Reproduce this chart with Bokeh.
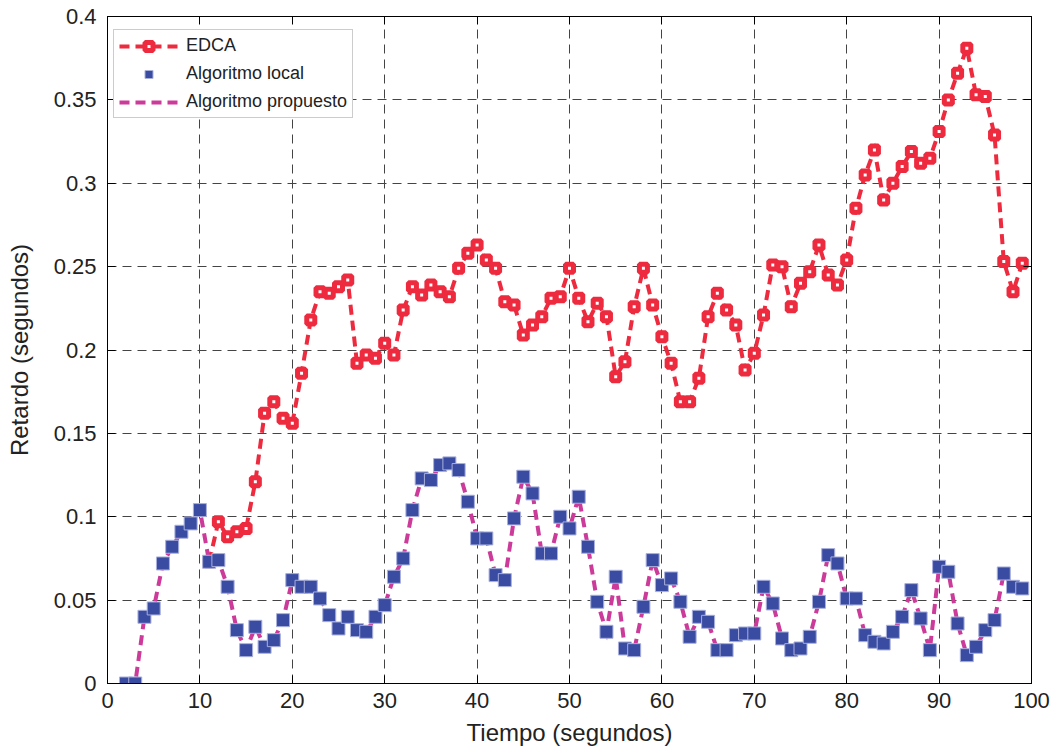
from bokeh.plotting import figure
from bokeh.models import Range1d, FixedTicker, LinearAxis, Legend, LegendItem
from bokeh.embed import file_html
from bokeh.resources import INLINE

# Delay per second of simulation
t_local = list(range(2, 100))
local = [0.000, 0.000, 0.040, 0.045, 0.072, 0.082, 0.091, 0.096, 0.104, 0.073,
         0.074, 0.058, 0.032, 0.020, 0.034, 0.022, 0.026, 0.038, 0.062, 0.058,
         0.058, 0.051, 0.041, 0.033, 0.040, 0.032, 0.031, 0.040, 0.047, 0.064,
         0.075, 0.104, 0.123, 0.122, 0.131, 0.132, 0.128, 0.109, 0.087, 0.087,
         0.065, 0.062, 0.099, 0.124, 0.114, 0.078, 0.078, 0.100, 0.093, 0.112,
         0.082, 0.049, 0.031, 0.064, 0.021, 0.020, 0.046, 0.074, 0.059, 0.063,
         0.049, 0.028, 0.040, 0.037, 0.020, 0.020, 0.029, 0.030, 0.030, 0.058,
         0.048, 0.027, 0.020, 0.021, 0.028, 0.049, 0.077, 0.072, 0.051, 0.051,
         0.029, 0.025, 0.024, 0.031, 0.040, 0.056, 0.039, 0.020, 0.070, 0.067,
         0.036, 0.017, 0.022, 0.032, 0.038, 0.066, 0.058, 0.057]
propuesto = list(local)

t_edca = list(range(11, 100))
edca = [0.073, 0.097, 0.088, 0.091, 0.093, 0.121, 0.162, 0.169, 0.159, 0.156,
        0.186, 0.218, 0.235, 0.234, 0.238, 0.242, 0.192, 0.197, 0.195, 0.204,
        0.197, 0.224, 0.238, 0.233, 0.239, 0.235, 0.232, 0.249, 0.258, 0.263,
        0.254, 0.249, 0.229, 0.227, 0.209, 0.215, 0.220, 0.231, 0.232, 0.249,
        0.231, 0.217, 0.228, 0.220, 0.184, 0.193, 0.226, 0.249, 0.227, 0.208,
        0.192, 0.169, 0.169, 0.183, 0.220, 0.234, 0.224, 0.215, 0.188, 0.198,
        0.221, 0.251, 0.250, 0.226, 0.240, 0.247, 0.263, 0.245, 0.239, 0.254,
        0.285, 0.305, 0.320, 0.290, 0.300, 0.310, 0.319, 0.312, 0.315, 0.331,
        0.350, 0.366, 0.381, 0.353, 0.352, 0.329, 0.253, 0.235, 0.252]

x_ticks = [0, 10, 20, 30, 40, 50, 60, 70, 80, 90, 100]
y_ticks = [0, 0.05, 0.1, 0.15, 0.2, 0.25, 0.3, 0.35, 0.4]
y_tick_labels = ["0", "0.05", "0.1", "0.15", "0.2", "0.25", "0.3", "0.35", "0.4"]

RED = "#ee2a3e"
PINK = "#cc3a9a"
BLUE = "#3a4ca2"
FONT = "Liberation Sans"

p = figure(width=1051, height=749, output_backend="svg", toolbar_location=None,
           x_range=Range1d(0, 100), y_range=Range1d(0, 0.4),
           min_border_left=107, min_border_right=20,
           min_border_top=16, min_border_bottom=66)
p.background_fill_color = "white"
p.border_fill_color = "white"
p.outline_line_color = "black"
p.outline_line_width = 1

p.xaxis.ticker = FixedTicker(ticks=x_ticks)
p.yaxis.ticker = FixedTicker(ticks=y_ticks)
p.yaxis.major_label_overrides = dict(zip(y_ticks, y_tick_labels))

for ax in (p.xaxis[0], p.yaxis[0]):
    ax.major_tick_in = 8
    ax.major_tick_out = 0
    ax.minor_tick_line_color = None
    ax.axis_line_color = "black"
    ax.major_tick_line_color = "black"
    ax.major_label_text_font = FONT
    ax.major_label_text_font_size = "22px"
    ax.major_label_text_color = "#222222"
    ax.axis_label_text_font = FONT
    ax.axis_label_text_font_size = "24px"
    ax.axis_label_text_font_style = "normal"
    ax.axis_label_text_color = "#222222"

p.xaxis.axis_label = "Tiempo (segundos)"
p.yaxis.axis_label = "Retardo (segundos)"
p.xaxis.major_label_standoff = 9
p.yaxis.major_label_standoff = 11
p.xaxis.axis_label_standoff = 8
p.yaxis.axis_label_standoff = 18

# box ticks on the top and right edges
top = LinearAxis(ticker=FixedTicker(ticks=x_ticks))
right = LinearAxis(ticker=FixedTicker(ticks=y_ticks))
for ax in (top, right):
    ax.major_tick_in = 8
    ax.major_tick_out = 0
    ax.minor_tick_line_color = None
    ax.major_label_text_font_size = "0px"
    ax.major_label_text_color = None
    ax.major_label_standoff = 0
    ax.axis_line_color = "black"
p.add_layout(top, "above")
p.add_layout(right, "right")

p.xgrid.ticker = FixedTicker(ticks=x_ticks)
p.ygrid.ticker = FixedTicker(ticks=y_ticks)
for g in (p.xgrid[0], p.ygrid[0]):
    g.grid_line_color = "#444444"
    g.grid_line_dash = "9 6"
    g.grid_line_width = 1

# EDCA
r_edca_line = p.line(t_edca, edca, line_color=RED, line_width=4,
                     line_dash="10 6", line_join="miter")
r_edca_mark = p.scatter(t_edca, edca, marker="square", size=8,
                        fill_color="white", line_color=RED, line_width=5)

# Proposed algorithm and local algorithm
r_prop = p.line(t_local, propuesto, line_color=PINK, line_width=4,
                line_dash="10 6", line_join="miter")
r_local = p.scatter(t_local, local, marker="square", size=13,
                    fill_color=BLUE, line_color="#a9b0dc", line_width=1)

legend = Legend(items=[
    LegendItem(label="EDCA", renderers=[r_edca_line, r_edca_mark]),
    LegendItem(label="Algoritmo local", renderers=[r_local]),
    LegendItem(label="Algoritmo propuesto", renderers=[r_prop]),
], location=(6, 565))
legend.label_text_font = FONT
legend.label_text_font_size = "18px"
legend.label_text_color = "#222222"
legend.glyph_width = 59
legend.glyph_height = 20
legend.label_height = 20
legend.spacing = 7
legend.padding = 5
legend.label_standoff = 8
legend.border_line_color = "#9a9a9a"
legend.border_line_width = 1
legend.background_fill_color = "white"
legend.background_fill_alpha = 1.0
legend.margin = 0
p.add_layout(legend, "center")

open("out.html", "w").write(file_html(p, INLINE))
